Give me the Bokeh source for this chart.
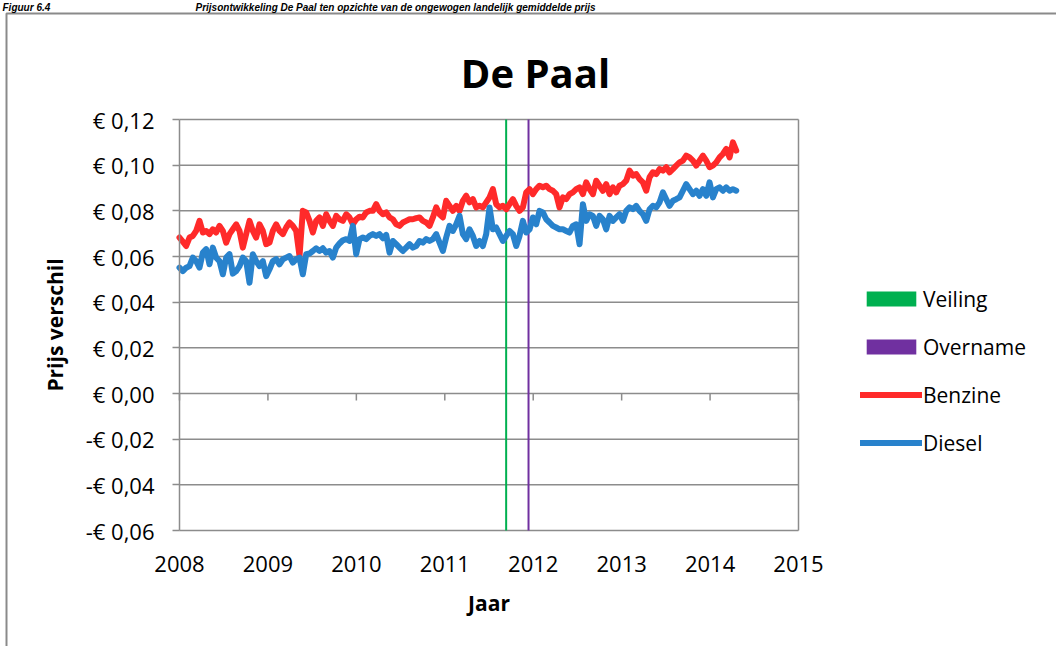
from bokeh.plotting import figure
from bokeh.models import (FixedTicker, Label, Legend, LegendItem, LinearAxis,
                          Range1d, CustomJSTickFormatter)
from bokeh.embed import file_html
from bokeh.resources import INLINE

# ---------------- data ----------------
START_YEAR = 2008.0
STEP = 0.0377          # sample spacing in years (about two weeks)

benzine = [
    0.0683, 0.0665, 0.0646, 0.0683, 0.0690, 0.0712, 0.0756, 0.0705, 0.0712, 0.0698,
    0.0719, 0.0705, 0.0734, 0.0712, 0.0661, 0.0698, 0.0719, 0.0741, 0.0712, 0.0639,
    0.0698, 0.0756, 0.0712, 0.0683, 0.0741, 0.0712, 0.0654, 0.0661, 0.0712, 0.0741,
    0.0712, 0.0698, 0.0727, 0.0749, 0.0734, 0.0712, 0.0602, 0.0800, 0.0793, 0.0756,
    0.0705, 0.0756, 0.0771, 0.0734, 0.0785, 0.0756, 0.0734, 0.0778, 0.0763, 0.0756,
    0.0785, 0.0771, 0.0741, 0.0763, 0.0774, 0.0771, 0.0793, 0.0800, 0.0800, 0.0829,
    0.0800, 0.0785, 0.0793, 0.0771, 0.0763, 0.0741, 0.0734, 0.0749, 0.0756, 0.0763,
    0.0763, 0.0768, 0.0771, 0.0756, 0.0749, 0.0734, 0.0771, 0.0815, 0.0785, 0.0771,
    0.0844, 0.0822, 0.0800, 0.0822, 0.0800, 0.0844, 0.0866, 0.0837, 0.0851, 0.0815,
    0.0822, 0.0815, 0.0837, 0.0859, 0.0895, 0.0829, 0.0815, 0.0822, 0.0807, 0.0829,
    0.0851, 0.0822, 0.0800, 0.0815, 0.0881, 0.0895, 0.0873, 0.0895, 0.0910, 0.0903,
    0.0910, 0.0895, 0.0888, 0.0873, 0.0815, 0.0859, 0.0851, 0.0873, 0.0881, 0.0895,
    0.0903, 0.0873, 0.0925, 0.0895, 0.0873, 0.0932, 0.0910, 0.0888, 0.0917, 0.0873,
    0.0903, 0.0881, 0.0910, 0.0917, 0.0932, 0.0976, 0.0954, 0.0961, 0.0939, 0.0925,
    0.0888, 0.0947, 0.0969, 0.0961, 0.0983, 0.0976, 0.0991, 0.0969, 0.0983, 0.0998,
    0.1012, 0.1020, 0.1042, 0.1034, 0.1020, 0.0998, 0.1020, 0.1042, 0.1020, 0.0991,
    0.0998, 0.1012, 0.1034, 0.1049, 0.1071, 0.1034, 0.1100, 0.1064,
]

diesel = [
    0.0551, 0.0536, 0.0551, 0.0558, 0.0595, 0.0580, 0.0551, 0.0617, 0.0632, 0.0566,
    0.0639, 0.0595, 0.0580, 0.0522, 0.0595, 0.0610, 0.0525, 0.0536, 0.0558, 0.0595,
    0.0580, 0.0485, 0.0610, 0.0580, 0.0558, 0.0580, 0.0514, 0.0544, 0.0580, 0.0588,
    0.0566, 0.0588, 0.0595, 0.0602, 0.0573, 0.0588, 0.0595, 0.0522, 0.0610, 0.0613,
    0.0624, 0.0636, 0.0624, 0.0636, 0.0617, 0.0624, 0.0595, 0.0639, 0.0657, 0.0671,
    0.0676, 0.0668, 0.0734, 0.0610, 0.0676, 0.0683, 0.0676, 0.0690, 0.0698, 0.0690,
    0.0698, 0.0680, 0.0695, 0.0617, 0.0668, 0.0654, 0.0639, 0.0624, 0.0639, 0.0654,
    0.0639, 0.0646, 0.0668, 0.0661, 0.0676, 0.0668, 0.0676, 0.0698, 0.0661, 0.0624,
    0.0683, 0.0734, 0.0712, 0.0741, 0.0778, 0.0698, 0.0676, 0.0719, 0.0690, 0.0646,
    0.0668, 0.0646, 0.0698, 0.0815, 0.0719, 0.0727, 0.0698, 0.0668, 0.0690, 0.0712,
    0.0698, 0.0646, 0.0690, 0.0756, 0.0705, 0.0719, 0.0771, 0.0741, 0.0800, 0.0793,
    0.0763, 0.0749, 0.0734, 0.0727, 0.0719, 0.0719, 0.0712, 0.0705, 0.0734, 0.0741,
    0.0654, 0.0829, 0.0756, 0.0785, 0.0778, 0.0734, 0.0778, 0.0763, 0.0719, 0.0778,
    0.0756, 0.0771, 0.0785, 0.0756, 0.0800, 0.0815, 0.0807, 0.0822, 0.0800, 0.0785,
    0.0756, 0.0807, 0.0822, 0.0815, 0.0837, 0.0881, 0.0851, 0.0822, 0.0844, 0.0851,
    0.0859, 0.0888, 0.0917, 0.0895, 0.0873, 0.0888, 0.0866, 0.0895, 0.0866, 0.0925,
    0.0859, 0.0895, 0.0903, 0.0888, 0.0903, 0.0888, 0.0895, 0.0888,
]

years = [START_YEAR + i * STEP for i in range(len(benzine))]

veiling_year = [2011.694]
overname_year = [2011.947]

x_ticks = [2008, 2009, 2010, 2011, 2012, 2013, 2014, 2015]
y_ticks = [-0.06, -0.04, -0.02, 0.0, 0.02, 0.04, 0.06, 0.08, 0.10, 0.12]
y_tick_labels = ["-€ 0,06", "-€ 0,04", "-€ 0,02", "€ 0,00", "€ 0,02",
                 "€ 0,04", "€ 0,06", "€ 0,08", "€ 0,10", "€ 0,12"]

title_text = "De Paal"
x_title = "Jaar"
y_title = "Prijs verschil"
caption_num = "Figuur 6.4"
caption_text = "Prijsontwikkeling De Paal ten opzichte van de ongewogen landelijk gemiddelde prijs"

# ---------------- layout (pixels) ----------------
W, H = 1056, 646
PX_LEFT, PX_RIGHT, PX_TOP, PX_BOTTOM = 179, 798, 119, 530
X0, X1 = x_ticks[0], x_ticks[-1]
Y0, Y1 = y_ticks[0], y_ticks[-1]
ppx = (PX_RIGHT - PX_LEFT) / (X1 - X0)
ppy = (PX_BOTTOM - PX_TOP) / (Y1 - Y0)


def xd(px):
    return X0 + (px - PX_LEFT) / ppx


def yd(py):
    return Y1 - (py - PX_TOP) / ppy


# ---------------- styling ----------------
FONT = "Open Sans"
GRID = "#8c8c8c"
RED = "#ff2a2a"
BLUE = "#2882cc"
GREEN = "#00b050"
PURPLE = "#7030a0"

p = figure(width=W, height=H,
           x_range=Range1d(xd(0), xd(W)), y_range=Range1d(yd(H), yd(0)),
           x_axis_location=None, y_axis_location=None,
           output_backend="svg", toolbar_location=None, min_border=0)
p.grid.visible = False
p.outline_line_color = None
p.background_fill_color = "white"
p.border_fill_color = "white"

# outer chart border (left and top edges of the chart box)
p.quad(left=[xd(6)], right=[xd(W + 50)], top=[yd(13)], bottom=[yd(H + 50)],
       fill_color=None, line_color="#8a8a8a", line_width=2)

# horizontal gridlines and right edge of the plot area
p.segment(x0=[X0] * len(y_ticks), x1=[X1] * len(y_ticks), y0=y_ticks, y1=y_ticks,
          line_color=GRID, line_width=1.5)
p.segment(x0=[X1], x1=[X1], y0=[Y0], y1=[Y1], line_color=GRID, line_width=1.5)

# small x tick marks on the zero line
p.segment(x0=x_ticks, y0=[0] * len(x_ticks), x1=x_ticks,
          y1=[-7 / ppy] * len(x_ticks), line_color=GRID, line_width=1.5)

# y axis (at 2008)
yaxis = LinearAxis(fixed_location=X0, bounds=(Y0, Y1), ticker=FixedTicker(ticks=y_ticks))
yaxis.formatter = CustomJSTickFormatter(
    args=dict(tick_vals=y_ticks, tick_texts=y_tick_labels),
    code="const i = tick_vals.findIndex(t => Math.abs(t - tick) < 1e-9); return i >= 0 ? tick_texts[i] : '';")
yaxis.axis_line_color = GRID
yaxis.axis_line_width = 1.5
yaxis.major_tick_line_color = GRID
yaxis.major_tick_line_width = 1.5
yaxis.major_tick_out = 7
yaxis.major_tick_in = 0
yaxis.minor_tick_line_color = None
yaxis.major_label_text_font = FONT
yaxis.major_label_text_font_size = "22px"
yaxis.major_label_text_color = "black"
yaxis.major_label_standoff = 18
yaxis.axis_label = y_title
yaxis.axis_label_text_font = FONT
yaxis.axis_label_text_font_style = "bold"
yaxis.axis_label_text_font_size = "21px"
yaxis.axis_label_text_color = "black"
yaxis.axis_label_standoff = 14
p.add_layout(yaxis, "left")

# x axis labels (below the plot area)
xaxis = LinearAxis(fixed_location=Y0, bounds=(X0, X1), ticker=FixedTicker(ticks=x_ticks))
xaxis.axis_line_color = None
xaxis.major_tick_line_color = None
xaxis.minor_tick_line_color = None
xaxis.major_label_text_font = FONT
xaxis.major_label_text_font_size = "22px"
xaxis.major_label_text_color = "black"
xaxis.major_label_standoff = 19
xaxis.axis_label = x_title
xaxis.axis_label_text_font = FONT
xaxis.axis_label_text_font_style = "bold"
xaxis.axis_label_text_font_size = "21px"
xaxis.axis_label_text_color = "black"
xaxis.axis_label_standoff = 14
p.add_layout(xaxis, "below")

# event lines
r_v = p.vbar(x=veiling_year, width=2 / ppx, top=Y1, bottom=Y0,
             fill_color=GREEN, line_color=None)
r_o = p.vbar(x=overname_year, width=2 / ppx, top=Y1, bottom=Y0,
             fill_color=PURPLE, line_color=None)

# series
r_b = p.line(years, benzine, line_color=RED, line_width=6,
             line_join="round", line_cap="round")
r_d = p.line(years, diesel, line_color=BLUE, line_width=6,
             line_join="round", line_cap="round")

legend = Legend(items=[
    LegendItem(label="Veiling", renderers=[r_v]),
    LegendItem(label="Overname", renderers=[r_o]),
    LegendItem(label="Benzine", renderers=[r_b]),
    LegendItem(label="Diesel", renderers=[r_d]),
], location=(860, 189))
legend.label_text_font = FONT
legend.label_text_font_size = "21px"
legend.label_text_color = "black"
legend.glyph_width = 62
legend.glyph_height = 19
legend.label_height = 29
legend.spacing = 19
legend.padding = 0
legend.margin = 0
legend.label_standoff = 1
legend.border_line_color = None
legend.background_fill_alpha = 0
p.add_layout(legend)

# chart title
p.add_layout(Label(x=xd(535), y=yd(72), text=title_text, text_align="center",
                   text_baseline="alphabetic", text_font=FONT, text_font_style="bold",
                   text_font_size="40px", text_color="black"))

# caption above the chart box
p.add_layout(Label(x=xd(2), y=yd(1), text=caption_num, text_align="left",
                   text_baseline="top", text_font="Liberation Sans",
                   text_font_style="bold italic", text_font_size="10px", text_color="black"))
p.add_layout(Label(x=xd(195), y=yd(1), text=caption_text, text_align="left",
                   text_baseline="top", text_font="Liberation Sans",
                   text_font_style="bold italic", text_font_size="10px", text_color="black"))

open("out.html", "w").write(file_html(p, INLINE))
